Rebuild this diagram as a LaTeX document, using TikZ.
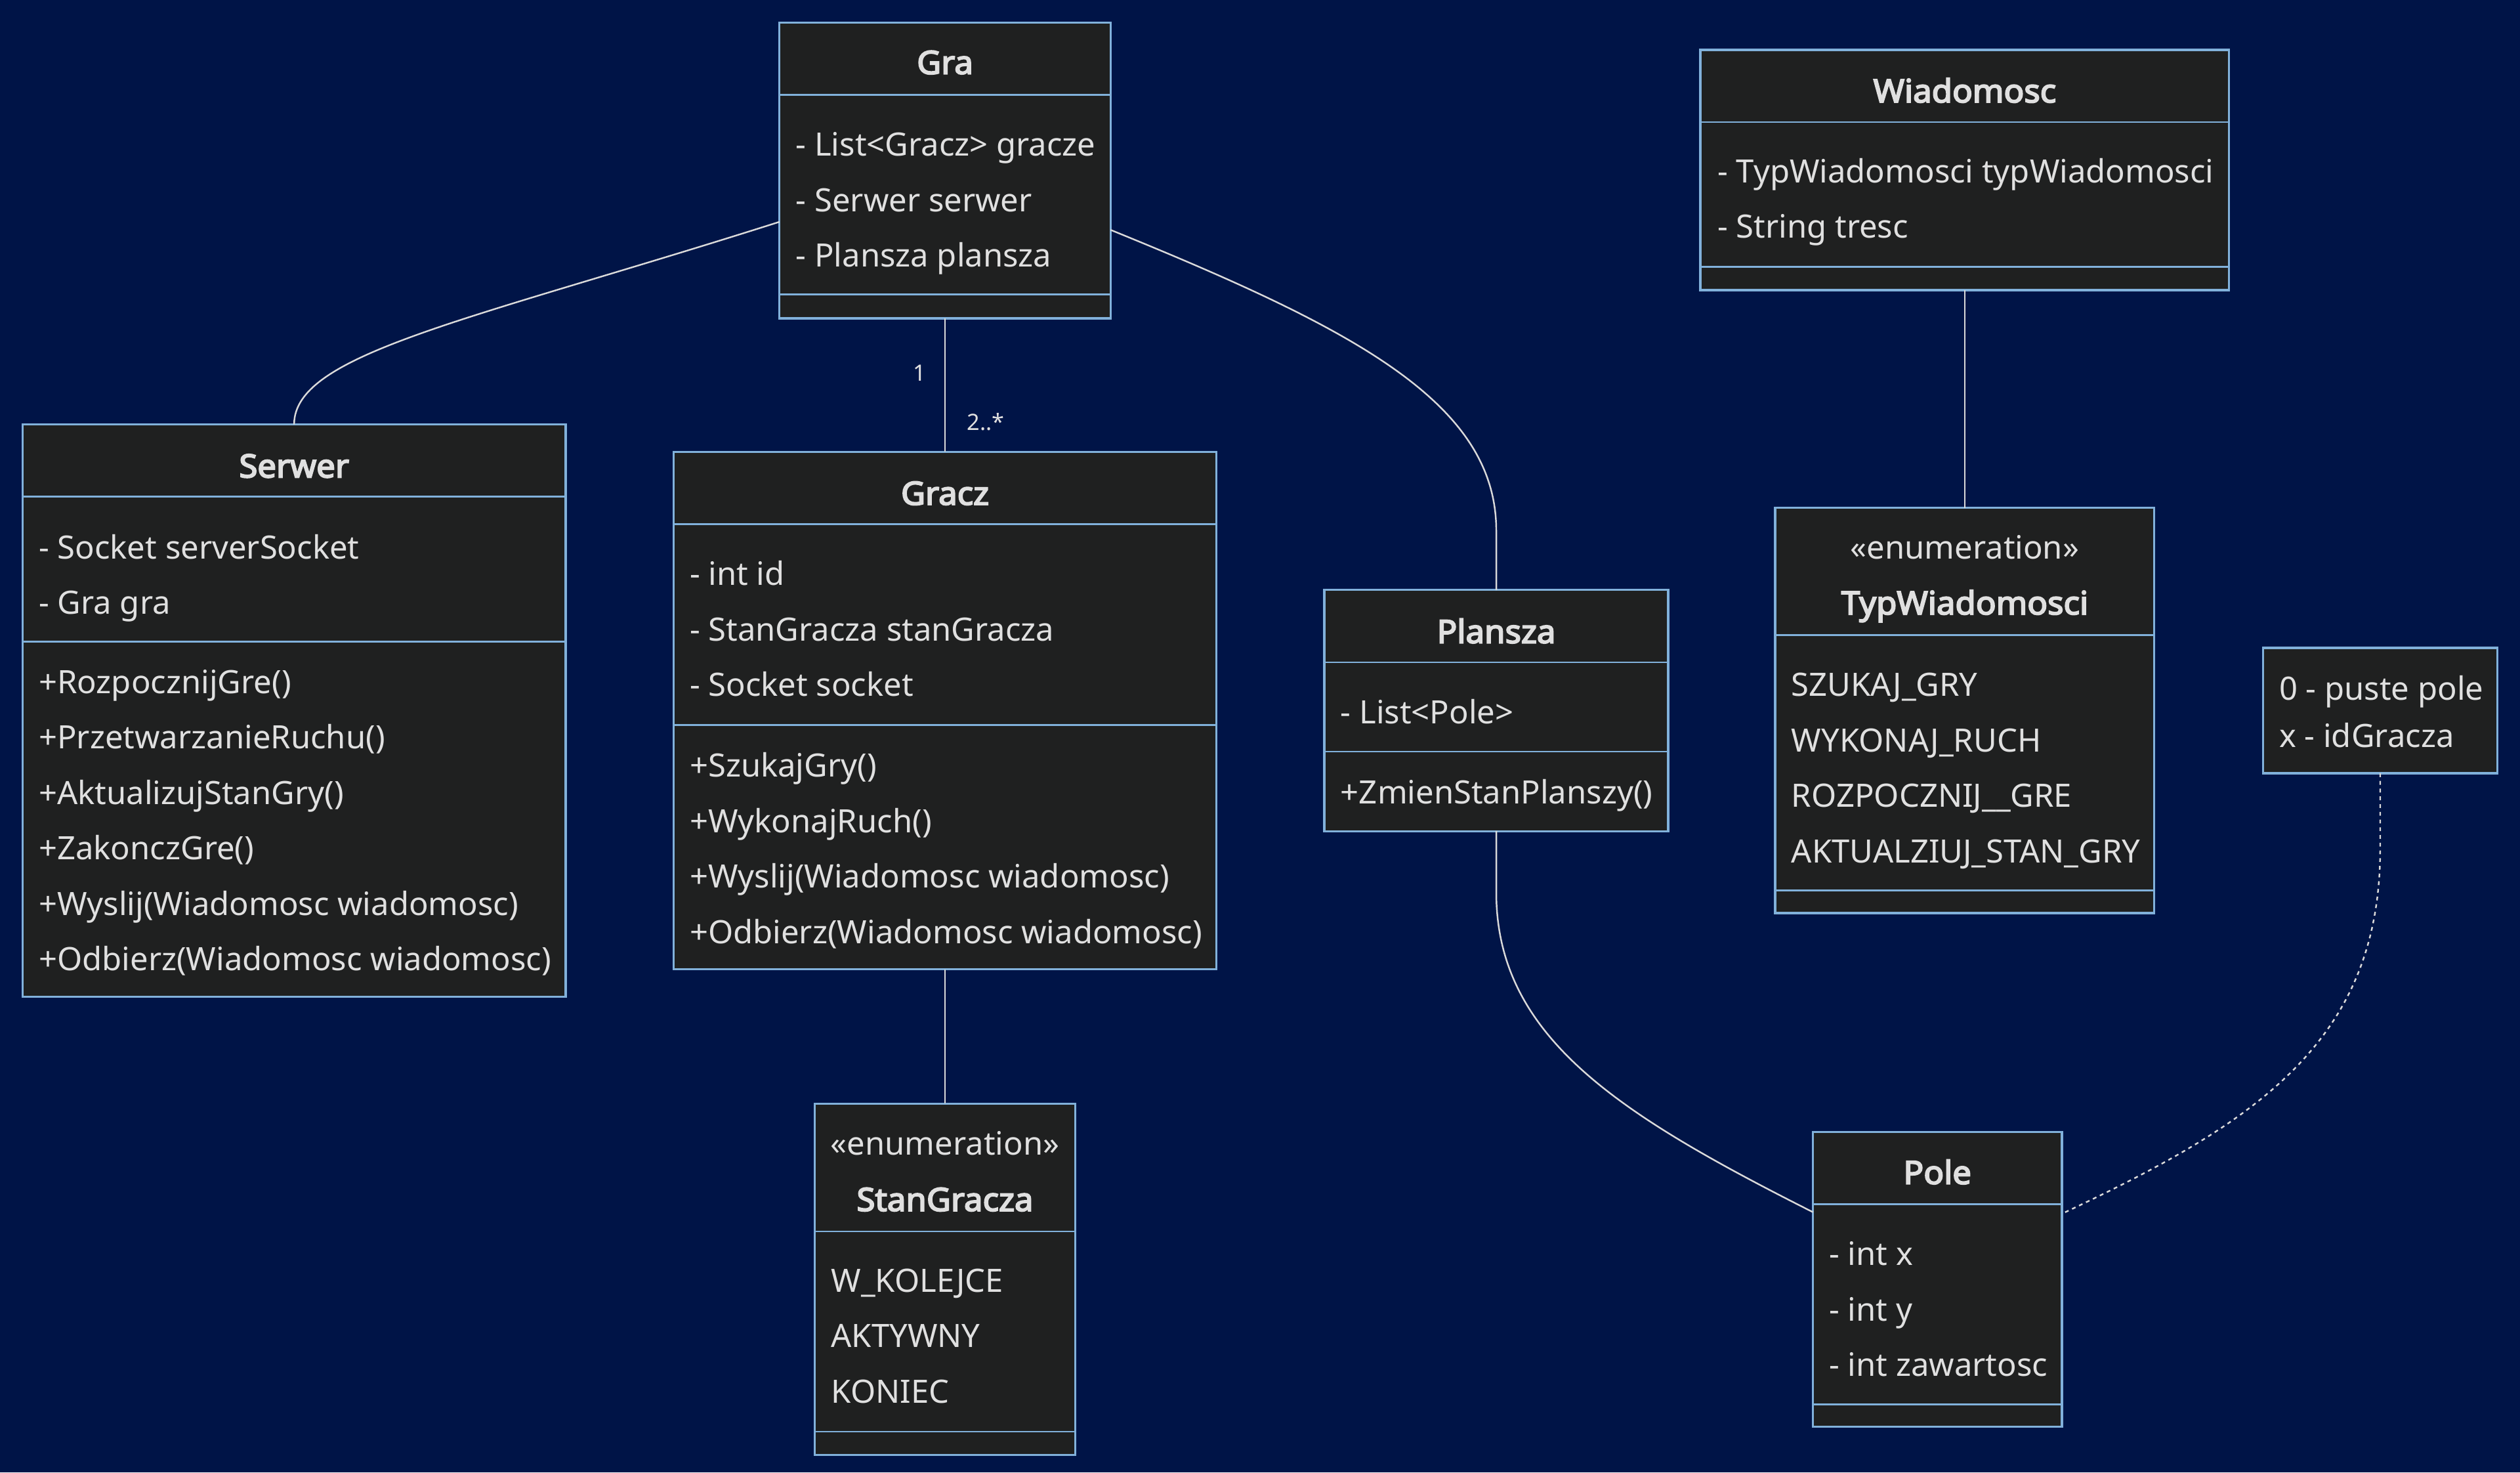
\documentclass[tikz,border=0pt]{standalone}
\usepackage{fontspec}
\setmainfont{Noto Sans}
\newfontfamily\titlefont{Noto Sans}[FakeBold=4,FakeStretch=1.04]
\definecolor{bg}{RGB}{0,20,71}
\definecolor{boxfill}{HTML}{1F2020}
\definecolor{boxborder}{HTML}{81B1DB}
\definecolor{txt}{HTML}{E0E0E0}
\definecolor{edge}{HTML}{DADADA}
\begin{document}
\begin{tikzpicture}[x=1pt,y=-1pt,
  classbox/.style={draw=boxborder, fill=boxfill, line width=1.3pt, inner sep=0pt, outer sep=0pt, rectangle},
  sepline/.style={draw=boxborder, line width=1.1pt},
  member/.style={anchor=base west, inner sep=0pt, text=txt, font=\fontsize{20}{24}\selectfont},
  ctitle/.style={anchor=base, inner sep=0pt, text=txt, font=\titlefont\fontsize{20}{24}\selectfont},
  stereo/.style={anchor=base, inner sep=0pt, text=txt, font=\fontsize{20}{24}\selectfont},
  mult/.style={inner sep=0pt, text=txt, font=\fontsize{14}{16}\selectfont},
  conn/.style={draw=edge, line width=1pt},
  dotconn/.style={conn, dash pattern=on 2.4pt off 2.4pt}]

\fill[bg] (0,0) rectangle (1568,916);
\useasboundingbox (0,0) rectangle (1568,916);

% ---------- boxes ----------
\node[classbox, minimum width=206pt, minimum height=184pt] (gra) at (588,106) {};
\node[classbox, minimum width=329pt, minimum height=149.5pt] (wiad) at (1222.5,105.75) {};
\node[classbox, minimum width=338pt, minimum height=356pt] (serwer) at (183,442) {};
\node[classbox, minimum width=338pt, minimum height=322pt] (gracz) at (588,442) {};
\node[classbox, minimum width=214pt, minimum height=150pt] (plansza) at (931,442) {};
\node[classbox, minimum width=236pt, minimum height=252pt] (typ) at (1222.5,442) {};
\node[classbox, minimum width=162pt, minimum height=218.5pt] (stan) at (588,795.75) {};
\node[classbox, minimum width=155pt, minimum height=183.5pt] (pole) at (1205.5,795.75) {};
\node[classbox, minimum width=146pt, minimum height=78pt] (note) at (1481,442) {};

% ---------- separators ----------
\draw[sepline] (485,59) -- (691,59);
\draw[sepline] (485,183) -- (691,183);
\draw[sepline] (1058,76) -- (1387,76);
\draw[sepline] (1058,166) -- (1387,166);
\draw[sepline] (14,309) -- (352,309);
\draw[sepline] (14,399) -- (352,399);
\draw[sepline] (419,326) -- (757,326);
\draw[sepline] (419,451) -- (757,451);
\draw[sepline] (824,412) -- (1038,412);
\draw[sepline] (824,467.5) -- (1038,467.5);
\draw[sepline] (1104.5,395) -- (1340.5,395);
\draw[sepline] (1104.5,554) -- (1340.5,554);
\draw[sepline] (507,766) -- (669,766);
\draw[sepline] (507,890.5) -- (669,890.5);
\draw[sepline] (1128,749) -- (1283,749);
\draw[sepline] (1128,873.5) -- (1283,873.5);

% ---------- Gra ----------
\node[ctitle] (gra-t) at (588,46) {Gra};
\node[member] (gra-a1) at (495,97) {- List<Gracz> gracze};
\node[member] (gra-a2) at (495,131.5) {- Serwer serwer};
\node[member] (gra-a3) at (495,166) {- Plansza plansza};

% ---------- Wiadomosc ----------
\node[ctitle] (wiad-t) at (1222.5,63.7) {Wiadomosc};
\node[member] (wiad-a1) at (1068.5,113.7) {- TypWiadomosci typWiadomosci};
\node[member] (wiad-a2) at (1068.5,148.2) {- String tresc};

% ---------- Serwer ----------
\node[ctitle] (serwer-t) at (183,297) {Serwer};
\node[member] (serwer-a1) at (24,347.5) {- Socket serverSocket};
\node[member] (serwer-a2) at (24,382) {- Gra gra};
\node[member] (serwer-m1) at (24,431.3) {+RozpocznijGre()};
\node[member] (serwer-m2) at (24,465.8) {+PrzetwarzanieRuchu()};
\node[member] (serwer-m3) at (24,500.3) {+AktualizujStanGry()};
\node[member] (serwer-m4) at (24,534.8) {+ZakonczGre()};
\node[member] (serwer-m5) at (24,569.3) {+Wyslij(Wiadomosc wiadomosc)};
\node[member] (serwer-m6) at (24,603.8) {+Odbierz(Wiadomosc wiadomosc)};

% ---------- Gracz ----------
\node[ctitle] (gracz-t) at (588,314) {Gracz};
\node[member] (gracz-a1) at (429,364.2) {- int id};
\node[member] (gracz-a2) at (429,398.7) {- StanGracza stanGracza};
\node[member] (gracz-a3) at (429,433.2) {- Socket socket};
\node[member] (gracz-m1) at (429,483.3) {+SzukajGry()};
\node[member] (gracz-m2) at (429,517.8) {+WykonajRuch()};
\node[member] (gracz-m3) at (429,552.3) {+Wyslij(Wiadomosc wiadomosc)};
\node[member] (gracz-m4) at (429,586.8) {+Odbierz(Wiadomosc wiadomosc)};

% ---------- Plansza ----------
\node[ctitle] (plansza-t) at (931,400) {Plansza};
\node[member] (plansza-a1) at (834,450.2) {- List<Pole>};
\node[member] (plansza-m1) at (834,499.8) {+ZmienStanPlanszy()};

% ---------- TypWiadomosci ----------
\node[stereo] (typ-s) at (1222.5,347.8) {«enumeration»};
\node[ctitle] (typ-t) at (1222.5,382.2) {TypWiadomosci};
\node[member] (typ-v1) at (1114.5,433.2) {SZUKAJ\_GRY};
\node[member] (typ-v2) at (1114.5,467.7) {WYKONAJ\_RUCH};
\node[member] (typ-v3) at (1114.5,502.2) {ROZPOCZNIJ\_\_GRE};
\node[member] (typ-v4) at (1114.5,536.7) {AKTUALZIUJ\_STAN\_GRY};

% ---------- StanGracza ----------
\node[stereo] (stan-s) at (588,718.4) {«enumeration»};
\node[ctitle] (stan-t) at (588,753.3) {StanGracza};
\node[member] (stan-v1) at (517,803.6) {W\_KOLEJCE};
\node[member] (stan-v2) at (517,838.1) {AKTYWNY};
\node[member] (stan-v3) at (517,872.6) {KONIEC};

% ---------- Pole ----------
\node[ctitle] (pole-t) at (1205.5,736.5) {Pole};
\node[member] (pole-a1) at (1138,787.2) {- int x};
\node[member] (pole-a2) at (1138,821.7) {- int y};
\node[member] (pole-a3) at (1138,856.2) {- int zawartosc};

% ---------- note ----------
\node[member] (note-l1) at (1418,435.3) {0 - puste pole};
\node[member] (note-l2) at (1418,464.8) {x - idGracza};

% ---------- connectors ----------
\draw[conn] ([yshift=-32pt]gra.west) .. controls (290,200) and (183,220) .. (serwer.north);
\draw[conn] (gra.south) -- (gracz.north);
\node[mult, anchor=base] (m1) at (572,237.1) {1};
\node[mult, anchor=base west] (m2) at (601.5,267.5) {2..*};
\draw[conn] ([yshift=-37pt]gra.east) .. controls (841,204) and (931,250) .. (931,330) -- (plansza.north);
\draw[conn] (wiad.south) -- (typ.north);
\draw[conn] (gracz.south) -- (stan.north);
\draw[conn] (plansza.south) -- (931,555) .. controls (931,645) and (1007,693) .. ([yshift=41.75pt]pole.west);
\draw[dotconn] (note.south) -- (1481,528) .. controls (1481,650) and (1400,700) .. ([yshift=40.75pt]pole.east);
\end{tikzpicture}
\end{document}
